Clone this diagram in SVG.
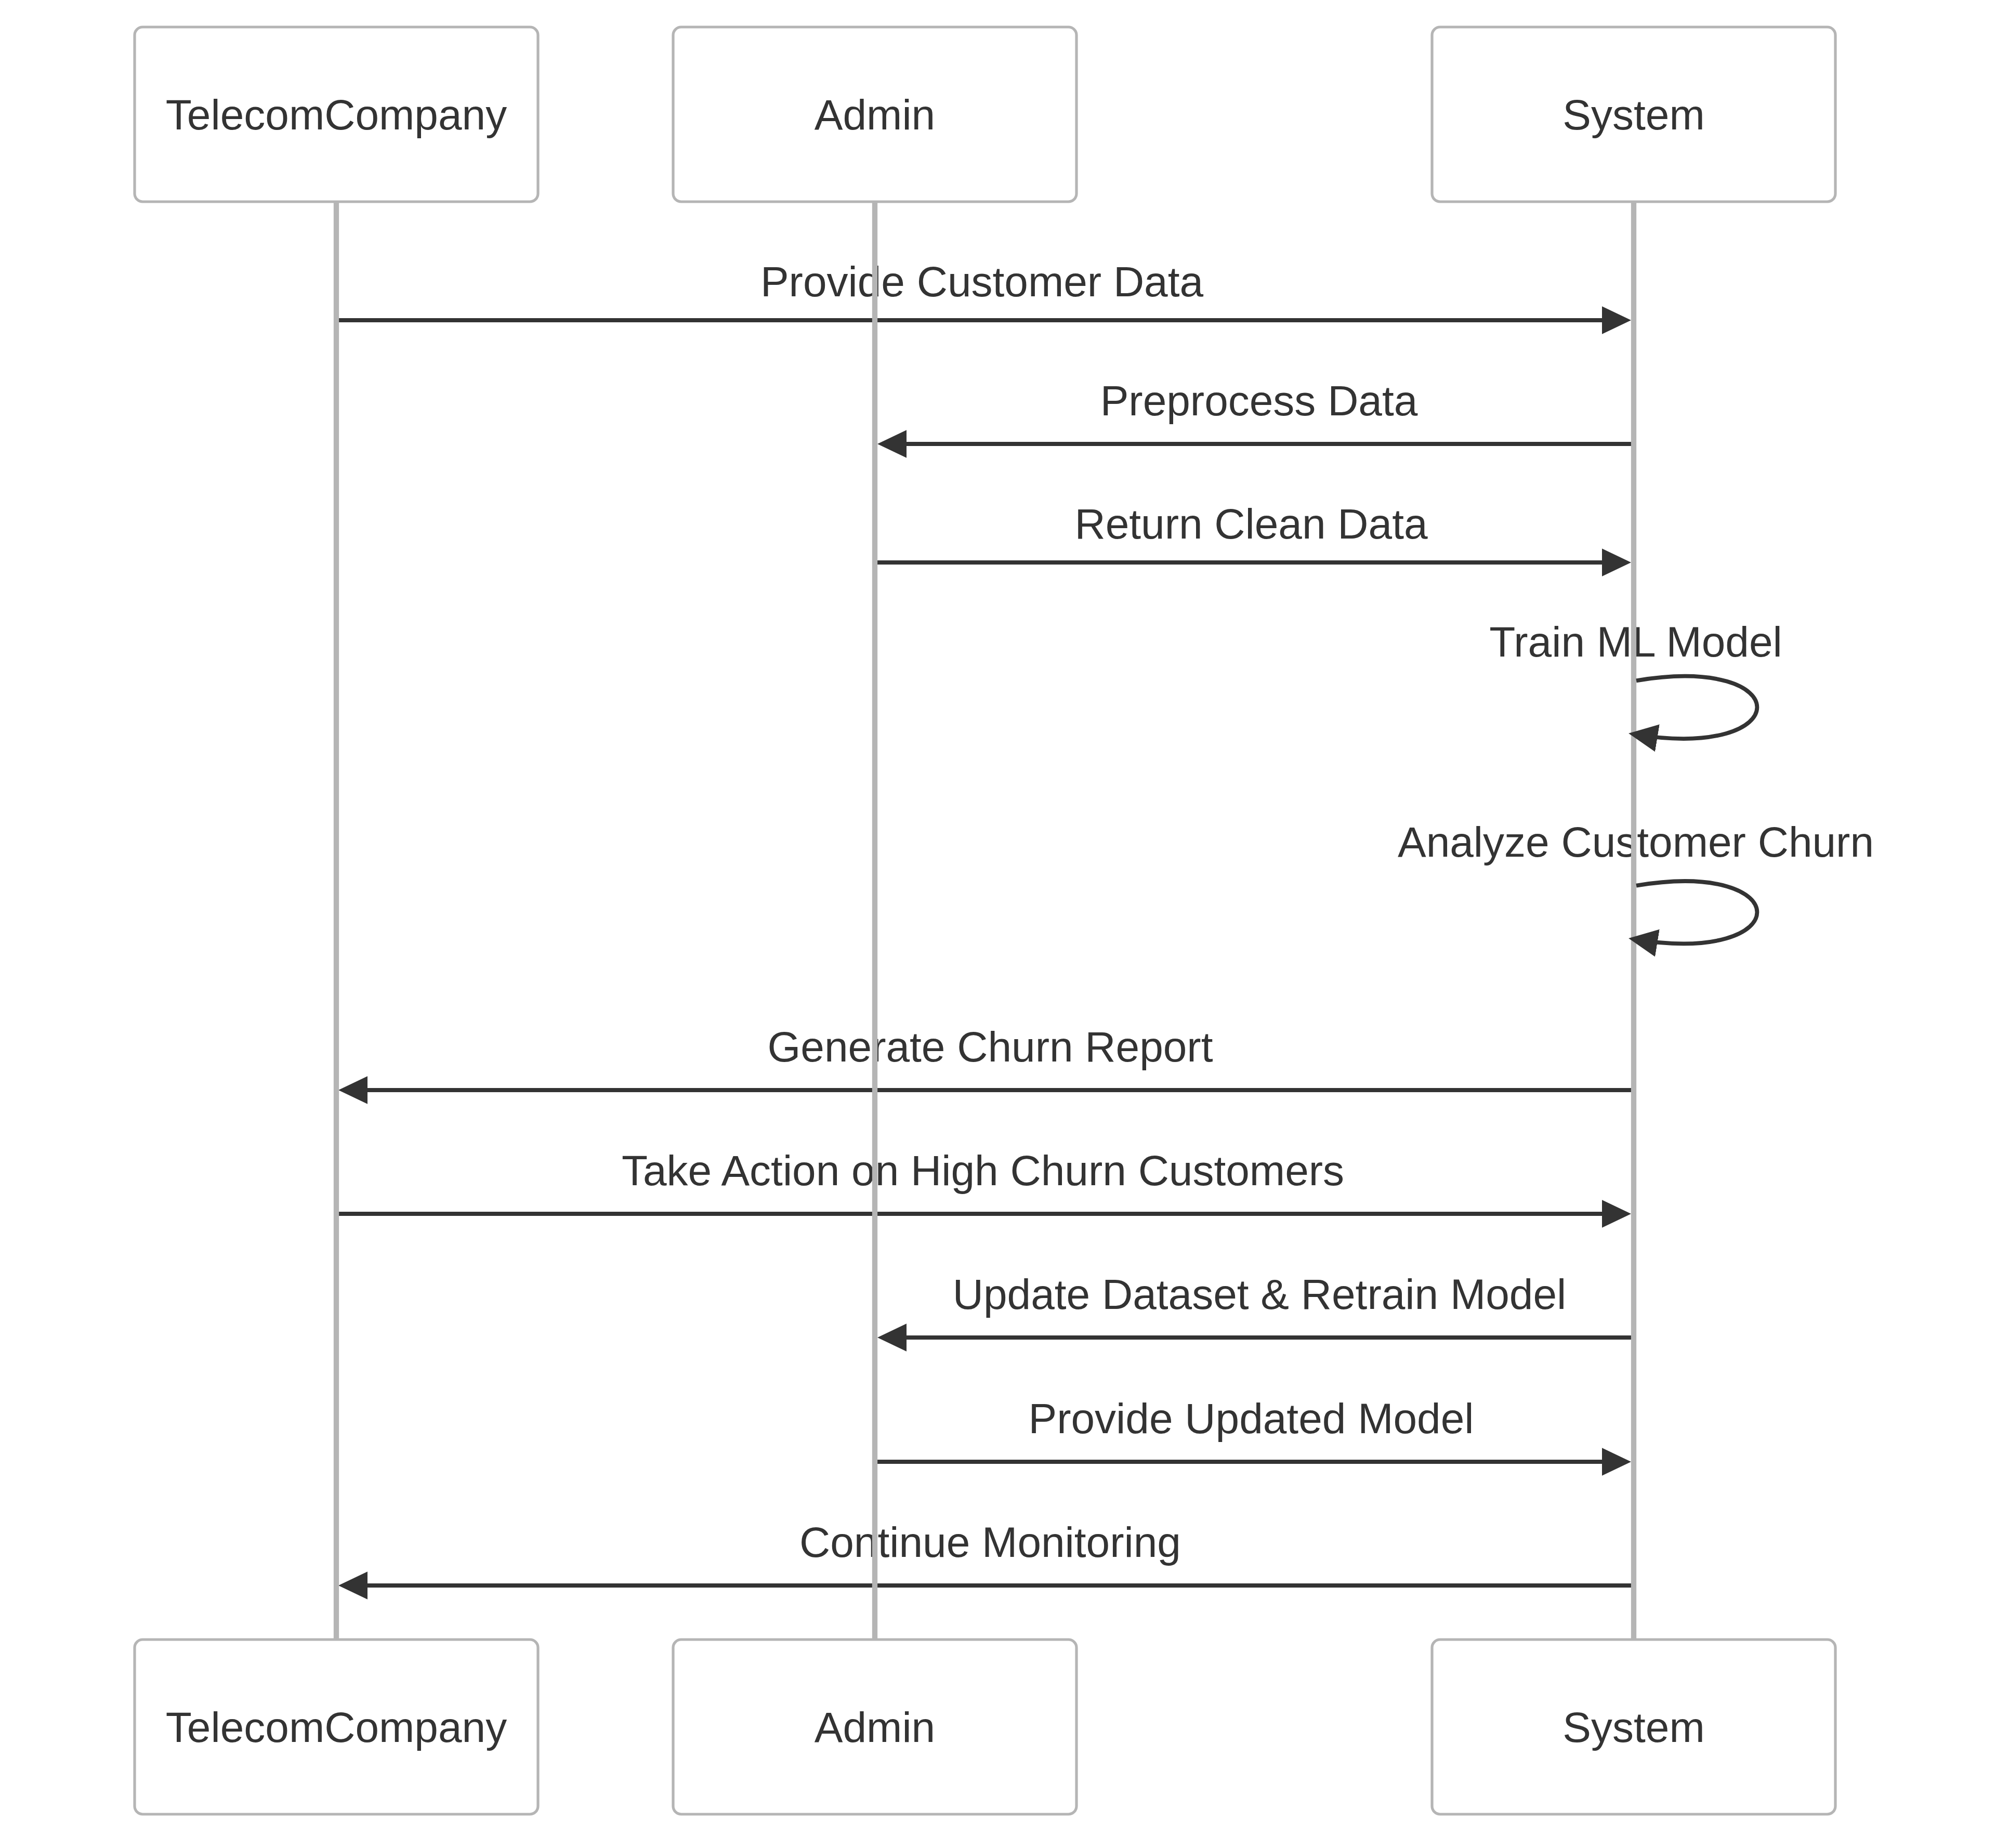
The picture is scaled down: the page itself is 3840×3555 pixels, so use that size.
<svg xmlns="http://www.w3.org/2000/svg" width="3840" height="3555" viewBox="0 0 3840 3555">
<defs>
<style>
.actor{fill:#ffffff;stroke:#b5b5b5;stroke-width:5.2}
.lifeline{stroke:#b5b5b5;stroke-width:10.3}
.atext{font-family:"Liberation Sans",Arial,sans-serif;font-size:82px;fill:#333333;text-anchor:middle}
.msg{stroke:#333333;stroke-width:7.8;fill:none;marker-end:url(#arrowhead)}
.mtext{font-family:"Liberation Sans",Arial,sans-serif;font-size:82px;fill:#333333;text-anchor:middle}
</style>
<marker id="arrowhead" markerUnits="userSpaceOnUse" markerWidth="60" markerHeight="56" refX="45" refY="26.7" orient="auto">
<path d="M0,0 L56,26.7 L0,53.4 z" fill="#333333"/>
</marker>
</defs>
<rect width="3840" height="3555" fill="#ffffff"/>
<g id="connectors">
<line class="msg" x1="647" y1="616" x2="3127" y2="616"/>
<text class="mtext" x="1889" y="570">Provide Customer Data</text>
<line class="msg" x1="3143" y1="854" x2="1699" y2="854"/>
<text class="mtext" x="2422" y="799">Preprocess Data</text>
<line class="msg" x1="1683" y1="1082" x2="3127" y2="1082"/>
<text class="mtext" x="2407" y="1036">Return Clean Data</text>
<text class="mtext" x="3147" y="1263">Train ML Model</text>
<text class="mtext" x="3147" y="1648">Analyze Customer Churn</text>
<line class="msg" x1="3143" y1="2097" x2="662" y2="2097"/>
<text class="mtext" x="1905" y="2042">Generate Churn Report</text>
<line class="msg" x1="647" y1="2335" x2="3127" y2="2335"/>
<text class="mtext" x="1891" y="2280">Take Action on High Churn Customers</text>
<line class="msg" x1="3143" y1="2573" x2="1699" y2="2573"/>
<text class="mtext" x="2423" y="2518">Update Dataset &amp; Retrain Model</text>
<line class="msg" x1="1683" y1="2812" x2="3127" y2="2812"/>
<text class="mtext" x="2407" y="2757">Provide Updated Model</text>
<line class="msg" x1="3143" y1="3050" x2="662" y2="3050"/>
<text class="mtext" x="1905" y="2995">Continue Monitoring</text>
</g>
<g id="TelecomCompany">
<line class="lifeline" x1="647" y1="388" x2="647" y2="3153"/>
<rect class="actor" x="259" y="52" width="776" height="336" rx="15.5" ry="15.5"/>
<text class="atext" x="647" y="249">TelecomCompany</text>
<rect class="actor" x="259" y="3154" width="776" height="336" rx="15.5" ry="15.5"/>
<text class="atext" x="647" y="3351">TelecomCompany</text>
</g>
<g id="Admin">
<line class="lifeline" x1="1683" y1="388" x2="1683" y2="3153"/>
<rect class="actor" x="1295" y="52" width="776" height="336" rx="15.5" ry="15.5"/>
<text class="atext" x="1683" y="249">Admin</text>
<rect class="actor" x="1295" y="3154" width="776" height="336" rx="15.5" ry="15.5"/>
<text class="atext" x="1683" y="3351">Admin</text>
</g>
<g id="System">
<line class="lifeline" x1="3143" y1="388" x2="3143" y2="3153"/>
<rect class="actor" x="2755" y="52" width="776" height="336" rx="15.5" ry="15.5"/>
<text class="atext" x="3143" y="249">System</text>
<rect class="actor" x="2755" y="3154" width="776" height="336" rx="15.5" ry="15.5"/>
<text class="atext" x="3143" y="3351">System</text>
</g>
<g id="self-messages">
<path class="msg" d="M3148,1309.3 C3458.5,1257.5 3458.5,1464.3 3144,1412.5"/>
<path class="msg" d="M3148,1703.6 C3458.5,1651.9 3458.5,1858.6 3144,1806.8"/>
</g>
</svg>
